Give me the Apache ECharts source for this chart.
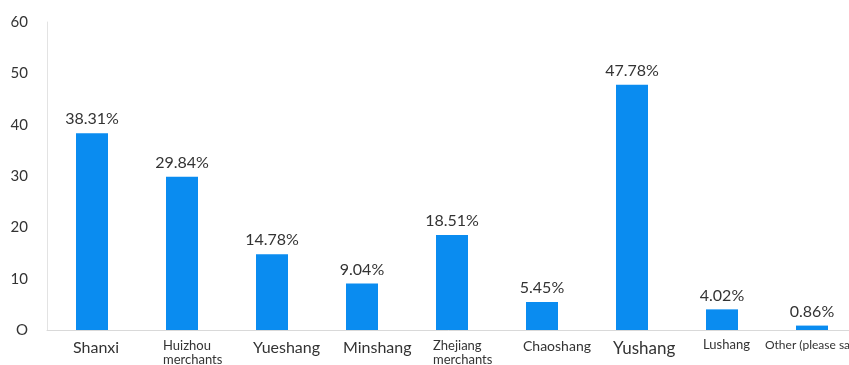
<!DOCTYPE html>
<html>
<head>
<meta charset="utf-8">
<script src="https://cdn.jsdelivr.net/npm/echarts@6/dist/echarts.min.js"></script>
<style>
  html, body { margin: 0; padding: 0; background: #fff; }
  #chart { width: 849px; height: 365px; }
</style>
</head>
<body>
<div id="chart"></div>
<script>
// Merchant groups and their share (%)
const categories = ['Shanxi', 'Huizhou\nmerchants', 'Yueshang', 'Minshang', 'Zhejiang\nmerchants', 'Chaoshang', 'Yushang', 'Lushang', 'Other (please say)'];
const shares = [38.31, 29.84, 14.78, 9.04, 18.51, 5.45, 47.78, 4.02, 0.86];
const yTickLabels = ['O', '10', '20', '30', '40', '50', '60'];

// Label font size per category (two-line and long names are set smaller)
const catFontSizes = [16, 13, 16, 16, 13, 14, 17, 13, 12];
// Small vertical nudges for individual labels
const catTopPad = [0, 0, 0, 0, 0, 0, 1, -1, 0];

const chart = echarts.init(document.getElementById('chart'), null, { renderer: 'canvas' });
const font = 'Lato, "Noto Sans", sans-serif';

chart.setOption({
  animation: false,
  textStyle: { fontFamily: font },
  grid: { left: 47, width: 810, top: 22, bottom: 35, outerBoundsMode: 'none', containLabel: false },
  xAxis: {
    type: 'category',
    data: categories.map((c, i) => {
      const last = i === categories.length - 1;
      return {
        value: c,
        textStyle: {
          fontSize: catFontSizes[i],
          lineHeight: catFontSizes[i] + 1,
          align: last ? 'center' : 'left',
          padding: [catTopPad[i], 0, 0, last ? 0 : -19]
        }
      };
    }),
    axisLine: { lineStyle: { color: '#d9d9d9' } },
    axisTick: { show: false },
    axisLabel: { color: '#333', margin: 9, interval: 0, fontFamily: font, hideOverlap: false }
  },
  yAxis: {
    type: 'value',
    min: 0, max: 60, interval: 10,
    axisLine: { show: true, lineStyle: { color: '#e3e3e3' } },
    axisTick: { show: false },
    splitLine: { show: false },
    axisLabel: {
      color: '#333', fontSize: 15, margin: 19, fontFamily: font,
      formatter: v => yTickLabels[Math.round(v / 10)]
    }
  },
  series: [{
    type: 'bar',
    data: shares,
    barWidth: 32,
    itemStyle: { color: '#0a8cf0' },
    label: {
      show: true, position: 'top', distance: 6,
      color: '#333', fontSize: 16, fontFamily: font,
      formatter: p => p.value.toFixed(2) + '%'
    }
  }]
});
</script>
</body>
</html>
